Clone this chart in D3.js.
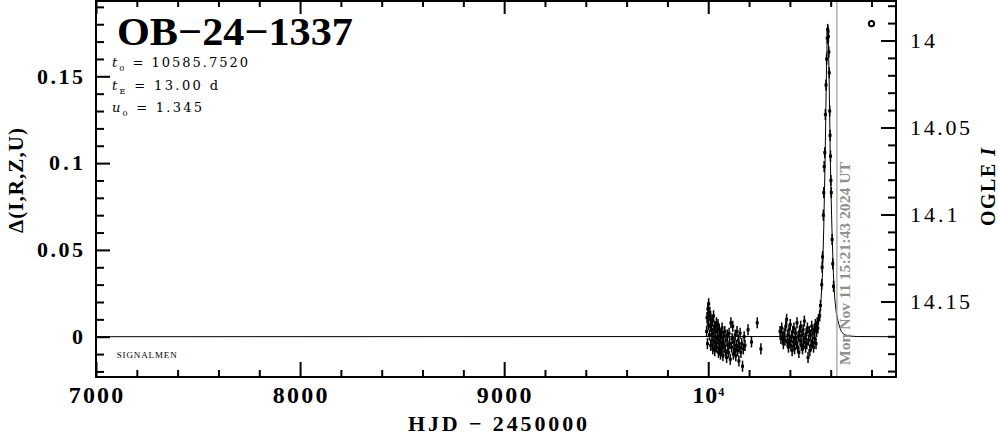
<!DOCTYPE html>
<html><head><meta charset="utf-8">
<script src="https://cdn.jsdelivr.net/npm/d3@7"></script>
<style>body{margin:0;background:#fff}svg{display:block}</style>
</head><body>
<svg id="c" width="999" height="434"></svg>
<script>
// ---------- data ----------
const eventName = "OB\u221224\u22121337";
const paramSymbols = ["t", "t", "u"];
const paramSubs = ["0", "E", "0"];
const paramValues = ["10585.7520", "13.00 d", "1.345"];
const xMajorTicks = [7000, 8000, 9000, 10000];
const xTickLabels = ["7000", "8000", "9000", "10"];
const yLeftTicks = [0, 0.05, 0.1, 0.15];
const yLeftLabels = ["0", "0.05", "0.1", "0.15"];
const yRightTicks = [14, 14.05, 14.1, 14.15];
const yRightLabels = ["14", "14.05", "14.1", "14.15"];
const nowHJD = 10630.5;
const nowLabel = "Mon Nov 11 15:21:43 2024 UT";
const surveyLabel = "SIGNALMEN";
const obsErr = 0.0032;

const season2023 = [
 [9992,0.003],[9994,0.011],[9996,-0.004],[9998,0.016],[10000,0.007],[10002,0.019],[10004,0.012],[10006,0.001],
 [10008,0.014],[10010,0.006],[10012,-0.005],[10014,0.010],[10016,0.004],[10018,-0.002],[10020,0.009],[10022,-0.007],
 [10024,0.002],[10026,0.012],[10028,-0.003],[10030,0.006],[10032,-0.008],[10034,0.000],[10036,0.005],[10038,-0.004],
 [10040,0.008],[10042,-0.006],[10044,0.003],[10046,-0.001],[10048,0.007],[10050,-0.009],[10052,-0.002],[10054,0.004],
 [10056,-0.006],[10058,0.001],[10060,-0.010],[10062,-0.003],[10064,0.002],[10066,-0.007],[10068,0.005],[10070,-0.004],
 [10072,-0.011],[10075,0.000],[10078,-0.006],[10081,0.003],[10084,-0.008],[10087,-0.002],[10090,-0.012],[10093,0.001],
 [10096,-0.005],[10099,-0.009],[10102,0.002],[10105,-0.004],[10108,-0.013],[10111,0.008],[10114,-0.006],[10117,-0.001],
 [10120,0.006],[10123,-0.010],[10126,-0.003],[10129,-0.007],[10132,0.001],[10135,-0.011],[10138,-0.005],[10141,0.003],
 [10144,-0.008],[10147,-0.002],[10150,-0.014],[10153,-0.006],[10156,0.002],[10160,-0.009],[10164,-0.004],[10168,-0.017],
 [10172,-0.007],[10176,0.000],[10180,-0.005],[10195,0.004],[10212,-0.003],[10240,0.008],[10258,-0.007]
];
const season2024 = [
 [10352,0.003],[10356,-0.001],[10360,0.005],[10364,0.000],[10368,-0.004],[10372,0.002],[10376,-0.002],[10380,0.006],
 [10384,0.010],[10387,-0.003],[10390,0.001],[10393,-0.006],[10396,0.004],[10399,-0.002],[10402,0.007],[10405,-0.005],
 [10408,0.000],[10411,-0.008],[10414,0.003],[10417,-0.003],[10420,0.005],[10423,-0.007],[10426,-0.001],[10429,0.002],
 [10432,-0.004],[10435,0.008],[10438,-0.006],[10441,0.000],[10444,-0.009],[10447,0.003],[10450,-0.002],[10453,0.006],
 [10456,-0.005],[10459,0.001],[10462,-0.007],[10465,0.004],[10468,-0.003],[10471,0.009],[10474,-0.001],[10477,-0.006],
 [10480,0.002],[10483,-0.004],[10486,0.005],[10489,-0.012],[10492,-0.002],[10495,0.003],[10498,-0.008],[10501,0.001],
 [10504,-0.005],[10507,0.006],[10510,-0.003],[10513,0.002],[10516,-0.006],[10519,0.004],[10522,-0.001],[10525,0.007],
 [10528,-0.004],[10531,0.003],[10534,0.008],[10537,0.005],[10540,0.010]
];
const peak2024 = [
 [10546,0.012],[10550,0.018],[10556,0.030],[10558,0.040],[10560,0.046],[10564,0.070],[10566,0.083],[10568,0.098],
 [10571,0.106],[10574,0.128],[10577,0.145],[10580,0.160],[10583,0.172],[10585,0.177],[10587,0.176],[10589,0.173],
 [10591,0.164],[10593,0.152],[10595,0.130],[10597,0.116],[10599,0.104],[10601,0.090],[10603,0.083],[10607,0.056],
 [10610,0.042],[10614,0.029]
];
const modelCurve = [
 [7000,0],[10440,0.0001],[10480,0.0004],[10500,0.0008],[10508,0.0012],[10521,0.0026],[10534,0.0056],[10540,0.0085],
 [10547,0.0134],[10553,0.0219],[10560,0.0368],[10566,0.0627],[10569,0.0810],[10573,0.1031],[10576,0.1280],[10579,0.1509],
 [10582,0.1680],[10586,0.1770],[10589,0.1680],[10592,0.1509],[10595,0.1280],[10598,0.1031],[10602,0.0810],[10606,0.0627],
 [10613,0.0368],[10620,0.0219],[10628,0.0134],[10640,0.0070],[10652,0.0030],[10666,0.0012],[10690,0.0004],[10730,0.0001],
 [10920,0]
];

// ---------- layout ----------
const L = 96, R = 896, T = 1, B = 377;
const FONT = "'Liberation Serif', 'Times New Roman', serif";
const FONT2 = "'DejaVu Serif', serif";
const svg = d3.select("#c");
const x = d3.scaleLinear().domain([7000, 10920]).range([L, R]);
const yL = d3.scaleLinear().domain([-0.02321, 0.19338]).range([B, T]);
const yR = d3.scaleLinear().domain([13.9773, 14.1934]).range([T, B]);

// ticks via d3 axes (inward)
const xMinor = d3.range(35, 55).map(i => i * 200).filter(v => v % 1000 !== 0 && v <= 10920);
const yLMinor = d3.range(-2, 20).map(i => i / 100).filter(v => Math.abs(v * 100 % 5) > 1e-6);
const yRMinor = d3.range(1398, 1420).map(i => i / 100).filter(v => Math.round(v * 100) % 5 !== 0);

function tickAxis(axis, tr) {
  const g = svg.append("g").attr("transform", tr).call(axis);
  g.select(".domain").remove();
  g.selectAll("text").remove();
  g.selectAll("line").attr("stroke", "#000").attr("stroke-width", 2);
  return g;
}
tickAxis(d3.axisBottom(x).tickValues(xMajorTicks).tickSize(-15), `translate(0,${B})`);
tickAxis(d3.axisBottom(x).tickValues(xMinor).tickSize(-7), `translate(0,${B})`);
tickAxis(d3.axisTop(x).tickValues(xMajorTicks).tickSize(-13), `translate(0,${T})`);
tickAxis(d3.axisTop(x).tickValues(xMinor).tickSize(-6), `translate(0,${T})`);
tickAxis(d3.axisLeft(yL).tickValues(yLeftTicks).tickSize(-14), `translate(${L},0)`);
tickAxis(d3.axisLeft(yL).tickValues(yLMinor).tickSize(-8), `translate(${L},0)`);
tickAxis(d3.axisRight(yR).tickValues(yRightTicks).tickSize(-15), `translate(${R},0)`);
tickAxis(d3.axisRight(yR).tickValues(yRMinor).tickSize(-8), `translate(${R},0)`);

// model curve
svg.append("path").datum(modelCurve)
  .attr("fill", "none").attr("stroke", "#000").attr("stroke-width", 1)
  .attr("d", d3.line().x(d => x(d[0])).y(d => yL(d[1])));

// observations with error bars
const obs = season2023.concat(season2024, peak2024);
const og = svg.append("g");
og.selectAll("line.eb").data(obs).join("line")
  .attr("x1", d => x(d[0])).attr("x2", d => x(d[0]))
  .attr("y1", d => yL(d[1] - obsErr)).attr("y2", d => yL(d[1] + obsErr))
  .attr("stroke", "#000").attr("stroke-width", 1.5);
og.selectAll("rect.pt").data(obs).join("rect")
  .attr("x", d => x(d[0]) - 1.5).attr("y", d => yL(d[1]) - 1.5)
  .attr("width", 3).attr("height", 3).attr("fill", "#000");

// current-time line
svg.append("line").attr("x1", x(nowHJD)).attr("x2", x(nowHJD))
  .attr("y1", T).attr("y2", B).attr("stroke", "#999").attr("stroke-width", 1.2);
svg.append("text").attr("transform", `translate(${x(nowHJD) + 13},365) rotate(-90)`)
  .attr("font-family", FONT).attr("font-weight", "bold").attr("font-size", 15)
  .attr("fill", "#8f8f8f").attr("textLength", 203).attr("lengthAdjust", "spacingAndGlyphs")
  .text(nowLabel);

// frame
svg.append("rect").attr("x", L).attr("y", T).attr("width", R - L).attr("height", B - T)
  .attr("fill", "none").attr("stroke", "#000").attr("stroke-width", 2);

// small circle marker top-right
svg.append("circle").attr("cx", 871.5).attr("cy", 23.7).attr("r", 2.6)
  .attr("fill", "none").attr("stroke", "#000").attr("stroke-width", 2);

// x tick labels
xMajorTicks.forEach((v, i) => {
  const t = svg.append("text").attr("x", x(v)).attr("y", 403.3).attr("text-anchor", "middle")
    .attr("font-family", FONT).attr("font-weight", "bold").attr("font-size", 24);
  if (v === 10000) {
    t.append("tspan").text(xTickLabels[i]);
    t.append("tspan").attr("font-size", 12).attr("dy", -7).text("4");
    t.attr("textLength", 32).attr("lengthAdjust", "spacing");
  } else {
    t.text(xTickLabels[i]).attr("textLength", 54.6).attr("lengthAdjust", "spacing");
  }
});
function labW(s, d, p) { return s.replace(/[^0-9]/g, "").length * d + (s.split(".").length - 1) * p; }
// left tick labels
yLeftTicks.forEach((v, i) => {
  svg.append("text").attr("x", 83).attr("y", yL(v) + 7.2).attr("text-anchor", "end")
    .attr("font-family", FONT).attr("font-weight", "bold").attr("font-size", 22)
    .attr("textLength", labW(yLeftLabels[i], 12, 10)).attr("lengthAdjust", "spacing")
    .text(yLeftLabels[i]);
});
// right tick labels
yRightTicks.forEach((v, i) => {
  svg.append("text").attr("x", 910).attr("y", yR(v) + 7.8).attr("text-anchor", "start")
    .attr("font-family", FONT).attr("font-size", 22)
    .attr("textLength", labW(yRightLabels[i], 12.5, 10)).attr("lengthAdjust", "spacing")
    .text(yRightLabels[i]);
});

// axis titles
svg.append("text").attr("x", 497.5).attr("y", 430.5).attr("text-anchor", "middle")
  .attr("font-family", FONT).attr("font-weight", "bold").attr("font-size", 22)
  .attr("textLength", 179).attr("lengthAdjust", "spacing").text("HJD \u2212 2450000");
svg.append("text").attr("transform", "translate(23,180.5) rotate(-90)").attr("text-anchor", "middle")
  .attr("font-family", FONT).attr("font-weight", "bold").attr("font-size", 21)
  .attr("textLength", 105).attr("lengthAdjust", "spacing").text("\u0394(I,R,Z,U)");
const rl = svg.append("text").attr("transform", "translate(995,187) rotate(-90)").attr("text-anchor", "middle")
  .attr("font-family", FONT).attr("font-weight", "bold").attr("font-size", 20)
  .attr("textLength", 78).attr("lengthAdjust", "spacing");
rl.append("tspan").text("OGLE ");
rl.append("tspan").attr("font-style", "italic").text("I");

// title + params
svg.append("text").attr("x", 117).attr("y", 44.5)
  .attr("font-family", FONT).attr("font-weight", "bold").attr("font-size", 40)
  .attr("textLength", 236).attr("lengthAdjust", "spacingAndGlyphs").text(eventName);
const paramY = [66.7, 89.5, 111.7];
const paramW = [136, 106, 90];
paramSymbols.forEach((s, i) => {
  const t = svg.append("text").attr("x", 112).attr("y", paramY[i])
    .attr("font-family", FONT2).attr("font-size", 13)
    .attr("textLength", paramW[i]).attr("lengthAdjust", "spacing");
  t.append("tspan").attr("font-style", "italic").text(s);
  t.append("tspan").attr("font-size", 8).attr("dy", 4).text(paramSubs[i]);
  t.append("tspan").attr("dy", -4).text(" = " + paramValues[i]);
});
svg.append("text").attr("x", 116.7).attr("y", 358.3)
  .attr("font-family", FONT).attr("font-size", 9)
  .attr("textLength", 60).attr("lengthAdjust", "spacing").text(surveyLabel);
</script>
</body></html>
